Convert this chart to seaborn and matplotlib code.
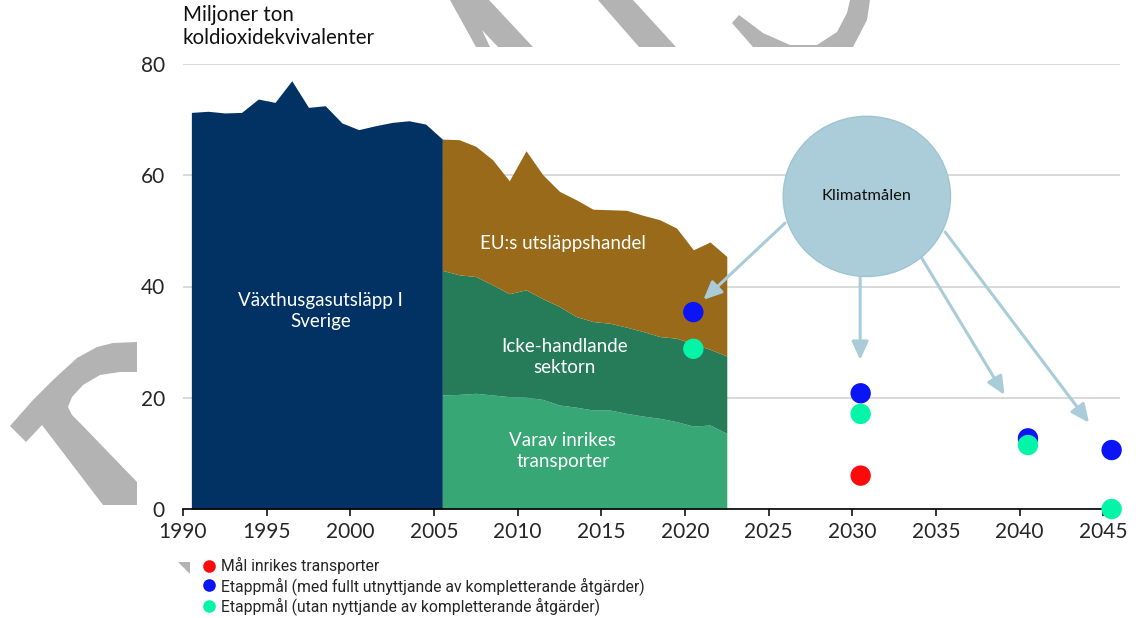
import numpy as np
import pandas as pd
import matplotlib
matplotlib.use("Agg")
import matplotlib.pyplot as plt
from matplotlib.patches import Ellipse, Polygon
import seaborn as sns

# historic total emissions (Mt CO2e), before the split by sector
hist_years = list(range(1990, 2006))
hist_total = [71.3, 71.5, 71.2, 71.3, 73.7, 73.1, 77.0, 72.2, 72.5, 69.4,
              68.2, 68.9, 69.5, 69.8, 69.2, 66.5]

# split by sector 2005-2022
sector_years = list(range(2005, 2023))
transport = [20.5, 20.6, 20.8, 20.5, 20.2, 20.1, 19.7, 18.7, 18.3, 17.8,
             17.8, 17.2, 16.7, 16.3, 15.7, 14.9, 15.1, 13.6]
non_trading = [22.4, 21.5, 21.0, 19.8, 18.5, 19.3, 18.1, 17.7, 16.3, 15.9,
               15.6, 15.5, 15.2, 14.7, 15.0, 14.8, 13.6, 13.9]
eu_ets = [23.6, 24.3, 23.4, 22.5, 20.3, 25.0, 22.3, 20.7, 21.0, 20.2,
          20.4, 21.0, 20.9, 21.0, 19.8, 16.9, 19.3, 17.9]

# climate targets
goal_transport_years = [2030]
goal_transport = [6.0]
goal_full_years = [2020, 2030, 2040, 2045]
goal_full = [35.4, 20.8, 12.7, 10.6]
goal_without_years = [2020, 2030, 2040, 2045]
goal_without = [28.8, 17.1, 11.5, 0.0]

series_names = ["Mål inrikes transporter",
                "Etappmål (med fullt utnyttjande av kompletterande åtgärder)",
                "Etappmål (utan nyttjande av kompletterande åtgärder)"]

W, H = 1136, 618
sns.set_theme(style="white")
plt.rcParams['font.family'] = ['Lato', 'DejaVu Sans']

fig = plt.figure(figsize=(W / 100, H / 100), dpi=100)
ax = fig.add_axes([183 / W, 1 - 509 / H, (1120 - 183) / W, (509 - 64) / H])

# values sit in the middle of each year
mid = 0.5
hx = np.array(hist_years) + mid
sx = np.array(sector_years) + mid
t = np.array(transport)
nt = t + np.array(non_trading)
tot = nt + np.array(eu_ets)

ax.fill_between(hx, 0, hist_total, color="#023263", lw=0, zorder=2)
ax.fill_between(sx, 0, t, color="#36A775", lw=0, zorder=2)
ax.fill_between(sx, t, nt, color="#267C58", lw=0, zorder=2)
ax.fill_between(sx, nt, tot, color="#986A19", lw=0, zorder=2)

txt = dict(color="white", fontsize=13.5, ha="center", va="center", zorder=5,
           linespacing=1.3)
ax.text(1998.2, 35.6, "Växthusgasutsläpp I\nSverige", **txt)
ax.text(2012.7, 47.8, "EU:s utsläppshandel", **txt)
ax.text(2012.8, 27.3, "Icke-handlande\nsektorn", **txt)
ax.text(2012.7, 10.4, "Varav inrikes\ntransporter", **txt)

# targets
goals = pd.DataFrame({
    "year": np.array(goal_transport_years + goal_full_years + goal_without_years) + mid,
    "value": goal_transport + goal_full + goal_without,
    "serie": [series_names[0]] * len(goal_transport)
             + [series_names[1]] * len(goal_full)
             + [series_names[2]] * len(goal_without),
})
palette = {series_names[0]: "#FF0A0A", series_names[1]: "#0A14F5",
           series_names[2]: "#05F5A8"}
sns.scatterplot(data=goals, x="year", y="value", hue="serie", hue_order=series_names,
                palette=palette, s=215, linewidth=0, ax=ax, zorder=6)
for coll in ax.collections:
    coll.set_clip_on(False)

# "Klimatmålen" bubble and arrows
arrow_col = "#A9CCD8"
arrows = [((2025.98, 51.4), (2021.1, 37.6)),
          ((2030.47, 41.7), (2030.47, 26.8)),
          ((2034.15, 45.1), (2039.1, 20.5)),
          ((2035.55, 49.8), (2044.15, 15.5))]
for start, end in arrows:
    ax.annotate("", xy=end, xytext=start, zorder=7,
                arrowprops=dict(arrowstyle="-|>,head_length=0.55,head_width=0.25",
                                color=arrow_col, lw=2.2, mutation_scale=20,
                                shrinkA=0, shrinkB=0))
ax.add_patch(Ellipse((2030.87, 56.2), 10.0, 28.8, facecolor="#ABCDD9",
                     edgecolor="#9FC4D1", lw=1, zorder=8))
ax.text(2030.87, 56.2, "Klimatmålen", fontsize=11.8, ha="center", va="center",
        color="#111111", zorder=9)

# axes
ax.set_xlim(1990, 2046)
ax.set_ylim(0, 80)
ax.set_xticks(range(1990, 2046, 5))
ax.set_yticks([0, 20, 40, 60, 80])
ax.set_xlabel("")
ax.set_ylabel("")
ax.grid(axis="y", color="#D9D9D9", lw=1.4, zorder=0)
ax.grid(axis="x", visible=False)
ax.set_axisbelow(True)
for s in ["left", "right", "top"]:
    ax.spines[s].set_visible(False)
ax.spines["bottom"].set_color("black")
ax.spines["bottom"].set_linewidth(1.2)
ax.spines["bottom"].set_zorder(4)
ax.tick_params(axis="x", length=5, width=1.1, color="black", direction="out",
               labelsize=15, pad=4, bottom=True)
ax.tick_params(axis="y", length=0, labelsize=15, pad=13)

fig.text(183 / W, 1 - 5 / H, "Miljoner ton\nkoldioxidekvivalenter", fontsize=14.8,
         ha="left", va="top", color="#111111", linespacing=1.2)

handles, labels = ax.get_legend_handles_labels()
ax.legend(handles, labels, loc="upper left", bbox_to_anchor=(201 / W, 1 - 557 / H),
          bbox_transform=fig.transFigure, frameon=False, markerscale=0.62,
          handletextpad=0.25, labelspacing=0.18, handlelength=1.0, borderaxespad=0,
          borderpad=0, prop={"family": ["Roboto", "DejaVu Sans"], "size": 11.3})

# grey watermark fragments, in pixel coordinates
grey = "#B3B3B3"
shapes = [
    [(450, 0), (489, 0), (533, 47), (498, 47), (482, 30), (490, 47), (476, 47)],
    [(598, 0), (633, 0), (676, 47), (639, 47)],
    [(732, 23), (739, 15), (763, 33), (790, 45), (817, 45), (837, 32), (847, 13),
     (850, 0), (870, 0), (867, 20), (853, 47), (753, 47)],
    [(10, 426), (33, 400), (53, 380), (77, 358), (97, 347), (113, 343), (137, 342),
     (137, 372), (120, 372), (100, 375), (83, 385), (72, 397), (68, 407), (72, 415),
     (80, 423), (137, 482), (137, 505), (103, 505), (42, 425), (26, 442)],
    [(178, 562), (190, 562), (190, 574)],
]
for pts in shapes:
    fig.add_artist(Polygon([(x / W, 1 - y / H) for x, y in pts], closed=True,
                           facecolor=grey, edgecolor="none",
                           transform=fig.transFigure))

fig.savefig("out.png", dpi=100)
